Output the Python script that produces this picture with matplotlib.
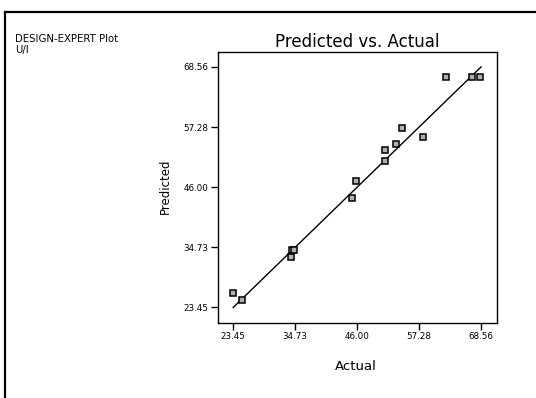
import matplotlib
matplotlib.use("Agg")
import matplotlib.pyplot as plt
from matplotlib.lines import Line2D

plt.rcParams['font.family'] = ['DejaVu Sans']

actual = [62.14, 66.98, 68.39, 54.23, 58.06, 53.09, 51.03, 51.03, 45.75, 45.02,
          34.09, 34.56, 34.00, 23.34, 25.09]
predicted = [66.69, 66.69, 66.69, 57.14, 55.45, 54.08, 52.96, 50.90, 47.10, 43.97,
             34.23, 34.29, 32.98, 26.24, 24.87]
ticks = [23.45, 34.73, 46.00, 57.28, 68.56]
tick_labels = ["23.45", "34.73", "46.00", "57.28", "68.56"]
lim = [20.6, 71.4]

fig = plt.figure(figsize=(5.36, 3.98), dpi=100)
ax = fig.add_axes([0.4058, 0.1892, 0.5209, 0.6809])

ax.plot([ticks[0], ticks[-1]], [ticks[0], ticks[-1]], color='black', lw=1.0)
ax.plot(actual, predicted, linestyle='none', marker='s', markersize=4,
        markerfacecolor='#b0b0b0', markeredgecolor='black', markeredgewidth=1.1)

ax.set_xlim(lim)
ax.set_ylim(lim)
ax.set_xticks(ticks)
ax.set_xticklabels(tick_labels)
ax.set_yticks(ticks)
ax.set_yticklabels(tick_labels)
ax.tick_params(axis='both', length=5, width=1.0, labelsize=6.3, pad=1.5, direction='out')
for s in ax.spines.values():
    s.set_linewidth(1.0)

fig.text(357/536, 1 - 46.7/398, "Predicted vs. Actual", ha='center', va='baseline', fontsize=12)
fig.text(356/536, 1 - 370/398, "Actual", ha='center', va='baseline', fontsize=9.5)
fig.text(165/536, 1 - 186/398, "Predicted", ha='center', va='center', rotation=90, fontsize=8.5)
fig.text(15/536, 1 - 42/398, "DESIGN-EXPERT Plot", ha='left', va='baseline', fontsize=7.3)
fig.text(15/536, 1 - 53.5/398, "U/I", ha='left', va='baseline', fontsize=7.3)

# outer frame (left and top edges visible)
fig.add_artist(Line2D([5/536, 5/536], [0, 1 - 12/398], transform=fig.transFigure,
                      color='black', lw=1.6))
fig.add_artist(Line2D([5/536, 1], [1 - 12/398, 1 - 12/398], transform=fig.transFigure,
                      color='black', lw=1.6))

fig.savefig("out.png", dpi=100)
